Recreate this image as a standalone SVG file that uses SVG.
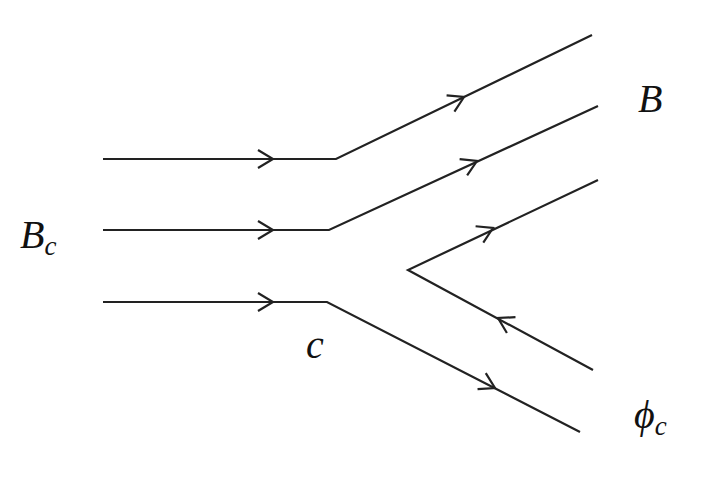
<svg xmlns="http://www.w3.org/2000/svg" xmlns:xlink="http://www.w3.org/1999/xlink" width="722" height="477" viewBox="0 0 722 477">
<style>
.l{fill:none;stroke:#222;stroke-width:2.2;stroke-linejoin:miter}
.t{font-family:"Liberation Serif","DejaVu Serif",serif;font-style:italic;font-size:40px;fill:#111}
.s{font-size:27px}
</style>
<defs><path id="chev" class="l" d="M-15,-9 L0,0 L-15,9"/></defs>
<rect width="722" height="477" fill="#fff"/>
<g id="connectors">
<path class="l" d="M103,159 L336,159 L592,35"/>
<path class="l" d="M103,230 L329,230 L598,106"/>
<path class="l" d="M103,302 L327,302 L580,432"/>
<path class="l" d="M598,180 L408,270 L593,370"/>
<use xlink:href="#chev" transform="translate(273,159)"/>
<use xlink:href="#chev" transform="translate(273,230)"/>
<use xlink:href="#chev" transform="translate(273,302)"/>
<use xlink:href="#chev" transform="translate(464,97) rotate(-25.8)"/>
<use xlink:href="#chev" transform="translate(477,161) rotate(-24.7)"/>
<use xlink:href="#chev" transform="translate(493,228) rotate(-25.3)"/>
<use xlink:href="#chev" transform="translate(498,318) rotate(208.4)"/>
<use xlink:href="#chev" transform="translate(495,388) rotate(27.2)"/>
</g>
<g id="Bc"><text class="t" x="20" y="248">B<tspan class="s" dy="7">c</tspan></text></g>
<g id="B"><text class="t" x="638" y="112">B</text></g>
<g id="c"><text class="t" x="306" y="358">c</text></g>
<g id="phic"><text class="t" x="634" y="428">ϕ<tspan class="s" dy="7">c</tspan></text></g>
</svg>
